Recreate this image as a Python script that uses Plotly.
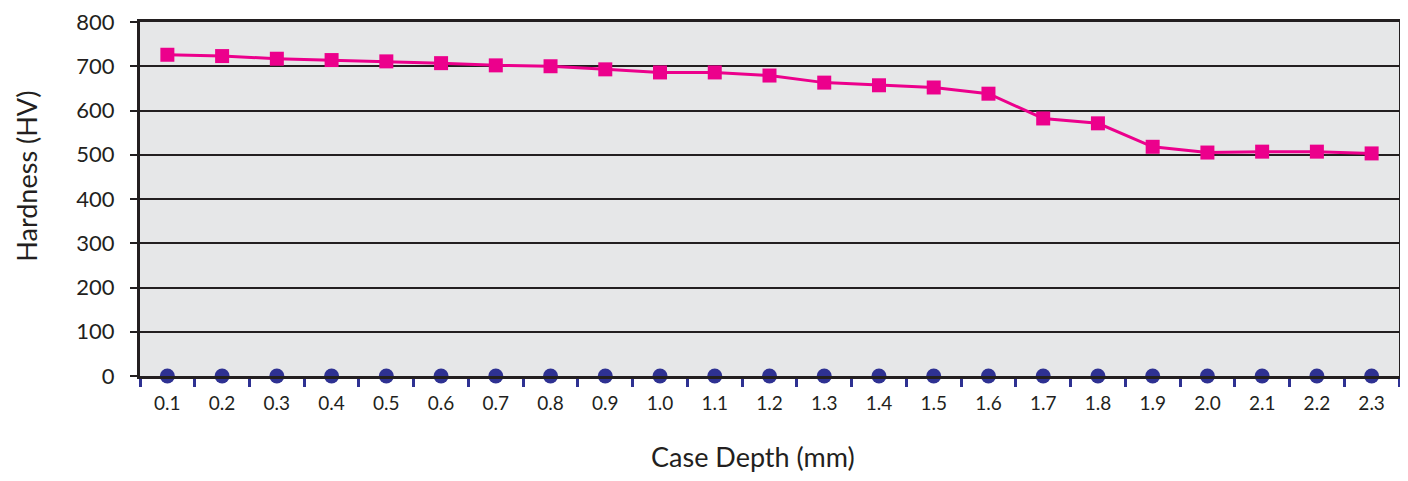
import plotly.graph_objects as go

depth = ["0.1", "0.2", "0.3", "0.4", "0.5", "0.6", "0.7", "0.8", "0.9", "1.0", "1.1", "1.2",
         "1.3", "1.4", "1.5", "1.6", "1.7", "1.8", "1.9", "2.0", "2.1", "2.2", "2.3"]
hardness = [726, 723, 717, 714, 711, 707, 702, 700, 693, 686, 686, 679,
            663, 657, 652, 638, 582, 571, 518, 505, 507, 507, 503]
baseline = [0] * len(depth)

PINK = "#EC008C"
NAVY = "#2E3192"
DARK = "#231F20"
FONT = "Lato"

fig = go.Figure()
fig.add_trace(
    go.Scatter(
        x=depth,
        y=baseline,
        mode="markers",
        marker=dict(symbol="circle", size=15, color=NAVY),
        cliponaxis=False,
        name="Base",
    )
)
fig.add_trace(
    go.Scatter(
        x=depth,
        y=hardness,
        mode="lines+markers",
        line=dict(color=PINK, width=3),
        marker=dict(symbol="square", size=14, color=PINK),
        cliponaxis=False,
        name="Hardness",
    )
)

# page body has an 8px margin, so the figure is sized to fit the window
fig.update_layout(
    width=1392,
    height=465,
    margin=dict(l=132, r=1, t=14, b=97),
    plot_bgcolor="#E6E7E8",
    paper_bgcolor="white",
    showlegend=False,
    font=dict(family=FONT, color=DARK),
    annotations=[
        dict(text="Case Depth (mm)", xref="paper", yref="paper", x=0.487, y=-0.228,
             xanchor="center", yanchor="middle", showarrow=False, font=dict(size=27)),
        dict(text="Hardness (HV)", xref="paper", yref="paper", x=-0.090, y=0.565,
             xanchor="center", yanchor="middle", textangle=-90, showarrow=False,
             font=dict(size=27)),
    ],
)
fig.update_xaxes(
    type="category",
    range=[-0.5, len(depth) - 0.5],
    automargin=False,
    tickson="boundaries",
    ticks="outside",
    ticklen=8,
    tickwidth=3,
    tickcolor=NAVY,
    ticklabelstandoff=8,
    tickfont=dict(size=19, color=DARK),
    showgrid=False,
    showline=True,
    linecolor=DARK,
    linewidth=3,
    mirror=True,
)
fig.update_yaxes(
    range=[0, 800],
    dtick=100,
    automargin=False,
    ticks="outside",
    ticklen=7,
    tickwidth=2,
    tickcolor=DARK,
    ticklabelstandoff=11,
    ticklabeloverflow="allow",
    tickfont=dict(size=22, color=DARK),
    showgrid=True,
    gridcolor=DARK,
    gridwidth=2,
    zeroline=False,
    showline=True,
    linecolor=DARK,
    linewidth=3,
    mirror=True,
)

fig.write_html("out.html")
